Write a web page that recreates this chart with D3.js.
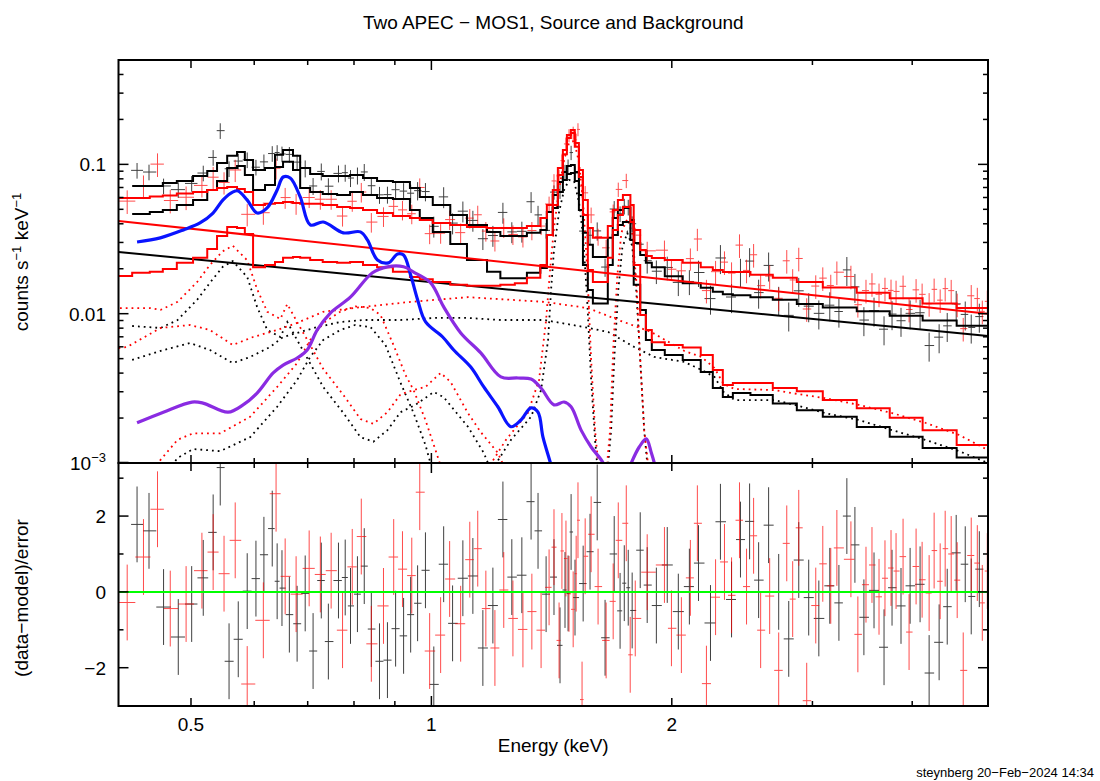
<!DOCTYPE html>
<html><head><meta charset="utf-8">
<script src="https://cdn.jsdelivr.net/npm/d3@7"></script>
<style>body{margin:0;background:#fff} text{font-family:"Liberation Sans",Arial,Helvetica,sans-serif;fill:#000}</style>
</head><body><svg id="c" width="1100" height="781"></svg>
<script>
// ---------- data ----------
const modelEdges = [0.4057,0.422,0.444,0.461,0.480,0.503,0.524,0.539,0.555,0.571,0.584,0.598,0.619,0.637,0.652,0.671,0.685,0.705,0.731,0.762,0.791,0.821,0.855,0.895,0.940,0.967,1.004,1.056,1.108,1.174,1.220,1.272,1.317,1.369,1.395,1.419,1.440,1.461,1.478,1.495,1.512,1.530,1.548,1.570,1.593,1.628,1.663,1.687,1.712,1.737,1.775,1.792,1.826,1.856,1.888,1.960,2.064,2.174,2.251,2.317,2.385,2.509,2.676,2.868,3.091,3.409,3.749,4.122,4.547,4.977];
const blkTotal = [null,0.0717,0.0717,0.0751,0.0774,0.0836,0.0903,0.102,0.114,0.121,0.107,0.0917,0.0945,0.116,0.125,0.114,0.0945,0.0862,0.0836,0.0836,0.0849,0.0811,0.0774,0.0762,0.0695,0.0605,0.0535,0.0458,0.0393,0.0353,0.0331,0.0331,0.0348,0.0364,0.0480,0.0624,0.0762,0.0889,0.0975,0.0991,0.0889,0.0624,0.0348,0.0289,0.0240,0.0240,0.0322,0.0437,0.0495,0.0510,0.0424,0.0298,0.0247,0.0219,0.0205,0.0178,0.0160,0.0149,0.0140,0.0135,0.0133,0.0129,0.0124,0.0116,0.0110,0.0104,0.0097,0.0090,0.0083];
const blkSource = [null,0.0465,0.0480,0.0495,0.0535,0.0578,0.0674,0.0774,0.0945,0.0975,0.0849,0.0674,0.0728,0.096,0.104,0.0917,0.0695,0.0654,0.0634,0.0624,0.0654,0.0624,0.0596,0.0587,0.0495,0.0437,0.0353,0.0293,0.0229,0.0191,0.0173,0.0173,0.0188,0.0202,0.0337,0.0510,0.0654,0.0786,0.0862,0.0875,0.0774,0.0495,0.0212,0.0144,0.0117,0.0117,0.0212,0.0337,0.0393,0.0411,0.0312,0.0156,0.0106,0.00666,0.00571,0.00529,0.0049,0.00407,0.00318,0.00277,0.00294,0.00285,0.0025,0.00226,0.00204,0.00174,0.0015,0.00126,0.00109];
const redTotal = [0.0596,0.0596,0.061,0.0618,0.0637,0.0654,0.0674,0.0695,0.0705,0.0684,0.0654,0.0535,0.0544,0.0552,0.056,0.0552,0.0544,0.0544,0.0535,0.0519,0.051,0.0495,0.0473,0.0451,0.0437,0.0424,0.0405,0.0393,0.0381,0.0375,0.0375,0.0375,0.0387,0.0437,0.0535,0.0674,0.0945,0.125,0.157,0.170,0.139,0.0917,0.0578,0.0375,0.0322,0.0322,0.0387,0.0495,0.0578,0.0624,0.0535,0.0364,0.0267,0.0243,0.0236,0.0229,0.0219,0.0205,0.0196,0.019,0.019,0.0182,0.0174,0.0163,0.0150,0.0138,0.0127,0.0117,0.0109];
const redSource = [0.0179,0.0188,0.0191,0.0199,0.0219,0.0237,0.0271,0.0331,0.0381,0.0375,0.0342,0.0205,0.0212,0.0222,0.0237,0.024,0.0237,0.0229,0.0222,0.0219,0.0222,0.0212,0.0205,0.0191,0.0176,0.017,0.0163,0.0156,0.0154,0.0154,0.0156,0.016,0.0174,0.0212,0.0337,0.0535,0.0849,0.117,0.150,0.162,0.131,0.0823,0.0458,0.0196,0.0163,0.0163,0.0237,0.0364,0.0458,0.0519,0.0411,0.0212,0.0098,0.00778,0.00643,0.00617,0.00594,0.00529,0.0042,0.00333,0.00343,0.00343,0.00318,0.00302,0.00264,0.00233,0.00201,0.00166,0.00132];
const blkPowerLaw = [[0.4057,0.0259],[4.977,0.0071]];
const redPowerLaw = [[0.4057,0.0418],[4.977,0.00997]];

// data points: [energy keV, (data-model)/error, fractional error]
const blkData = [[0.428,1.78,0.12],[0.443,1.61,0.12],[0.462,-0.40,0.12],[0.482,-1.19,0.12],[0.501,-0.32,0.12],[0.518,0.37,0.12],[0.533,1.57,0.12],[0.544,3.28,0.12],[0.558,-1.83,0.12],[0.573,-1.25,0.12],[0.588,0.02,0.12],[0.603,0.35,0.12],[0.617,0.98,0.12],[0.632,1.67,0.12],[0.641,0.28,0.12],[0.650,0.10,0.12],[0.664,-0.60,0.12],[0.679,-0.84,0.12],[0.695,-0.04,0.13],[0.711,-1.56,0.13],[0.728,0.30,0.13],[0.743,-1.31,0.13],[0.765,0.30,0.13],[0.780,0.38,0.13],[0.792,-0.37,0.13],[0.808,-0.06,0.13],[0.824,0.68,0.13],[0.841,-0.98,0.13],[0.861,-1.83,0.13],[0.881,-1.80,0.13],[0.902,-0.97,0.13],[0.923,-1.16,0.13],[0.942,-0.60,0.14],[0.961,-0.30,0.14],[0.983,0.57,0.14],[1.007,-2.44,0.16],[1.036,0.73,0.16],[1.063,-0.83,0.16],[1.095,0.36,0.16],[1.127,0.42,0.16],[1.160,-1.48,0.16],[1.194,-0.36,0.16],[1.229,1.91,0.16],[1.261,0.39,0.16],[1.298,0.44,0.16],[1.333,2.38,0.16],[1.360,1.61,0.15],[1.392,-0.06,0.12],[1.424,0.39,0.11],[1.449,-1.41,0.11],[1.470,0.05,0.11],[1.483,-0.04,0.11],[1.496,1.58,0.11],[1.513,-0.15,0.11],[1.549,0.22,0.12],[1.580,1.06,0.13],[1.613,2.36,0.14],[1.650,-1.21,0.14],[1.694,1.00,0.13],[1.723,-0.50,0.12],[1.744,0.23,0.12],[1.764,0.11,0.12],[1.784,-0.49,0.12],[1.826,1.10,0.14],[1.863,0.18,0.18],[1.913,-0.36,0.18],[1.974,0.71,0.18],[2.038,-0.52,0.19],[2.104,0.14,0.19],[2.160,0.76,0.2],[2.236,-0.82,0.22],[2.301,1.85,0.22],[2.376,-0.20,0.22],[2.438,1.38,0.22],[2.503,1.86,0.22],[2.569,0.31,0.22],[2.644,1.76,0.22],[2.722,0.0,0.22],[2.802,-1.24,0.22],[2.884,0.84,0.22],[2.968,-0.15,0.22],[3.056,-0.70,0.22],[3.154,0.16,0.22],[3.238,-0.29,0.22],[3.313,2.00,0.22],[3.391,1.24,0.22],[3.480,-0.67,0.22],[3.583,0.04,0.22],[3.688,-1.46,0.22],[3.774,0.11,0.22],[3.873,-0.37,0.22],[3.976,0.16,0.22],[4.092,0.20,0.22],[4.200,-2.14,0.22],[4.323,-1.33,0.22],[4.425,-0.39,0.22],[4.541,1.03,0.22],[4.661,0.73,0.22],[4.742,-0.12,0.22],[4.854,0.60,0.22]];
const redData = [[0.416,-0.28,0.18],[0.436,0.92,0.18],[0.454,2.18,0.18],[0.471,-0.44,0.18],[0.493,-0.32,0.18],[0.516,0.56,0.17],[0.533,1.05,0.17],[0.550,0.48,0.17],[0.568,1.36,0.17],[0.588,-2.43,0.17],[0.616,-0.75,0.17],[0.639,2.59,0.16],[0.656,0.41,0.16],[0.677,-0.06,0.16],[0.703,0.62,0.15],[0.726,0.46,0.15],[0.749,0.56,0.15],[0.774,-1.01,0.15],[0.796,0.66,0.15],[0.817,1.46,0.15],[0.841,-1.37,0.15],[0.871,-0.37,0.15],[0.897,0.92,0.15],[0.920,0.60,0.15],[0.945,0.43,0.15],[0.967,2.63,0.15],[0.995,-1.56,0.15],[1.027,-1.14,0.15],[1.054,0.34,0.15],[1.088,-0.84,0.15],[1.117,0.85,0.15],[1.143,1.14,0.15],[1.170,-0.44,0.15],[1.201,-1.48,0.15],[1.232,0.05,0.15],[1.265,-0.70,0.15],[1.302,-0.99,0.15],[1.336,-0.52,0.14],[1.372,-1.01,0.13],[1.404,0.12,0.12],[1.424,1.18,0.11],[1.445,-1.28,0.1],[1.457,1.08,0.1],[1.474,0.88,0.1],[1.487,-0.05,0.1],[1.505,-0.46,0.1],[1.518,0.48,0.1],[1.526,1.89,0.1],[1.544,-2.84,0.1],[1.558,0.94,0.11],[1.585,1.52,0.12],[1.617,0.14,0.13],[1.655,-1.28,0.13],[1.689,-0.25,0.12],[1.714,1.36,0.11],[1.754,1.81,0.11],[1.774,-1.66,0.11],[1.800,-0.70,0.12],[1.863,0.52,0.15],[1.958,0.71,0.16],[1.998,-0.96,0.16],[2.056,-1.14,0.16],[2.110,0.37,0.17],[2.153,1.81,0.17],[2.210,-2.42,0.18],[2.269,-0.14,0.18],[2.328,0.79,0.18],[2.376,-0.09,0.18],[2.431,1.89,0.18],[2.481,0.14,0.18],[2.532,1.48,0.18],[2.584,-1.01,0.18],[2.652,-0.11,0.18],[2.722,-2.07,0.18],[2.786,1.28,0.18],[2.834,-0.19,0.18],[2.884,1.69,0.18],[2.951,-2.87,0.18],[3.029,-0.36,0.18],[3.091,0.74,0.18],[3.163,0.16,0.18],[3.219,1.16,0.18],[3.352,0.86,0.18],[3.420,-1.12,0.18],[3.501,0.19,0.18],[3.562,0.71,0.18],[3.635,-0.13,0.18],[3.698,0.36,0.18],[3.763,0.63,0.18],[3.818,0.55,0.18],[3.896,0.93,0.18],[3.964,-1.06,0.18],[4.045,0.67,0.18],[4.116,0.32,0.18],[4.200,-0.03,0.18],[4.261,1.09,0.18],[4.336,0.28,0.18],[4.399,1.14,0.18],[4.476,1.00,0.18],[4.554,0.31,0.18],[4.634,-2.07,0.18],[4.742,0.96,0.18],[4.826,0.76,0.18],[4.896,-0.29,0.18],[4.967,0.55,0.18]];

// model components (dotted): [energy, counts/s/keV]
const blkLowT = [[0.422,0.00827],[0.458,0.00802],[0.481,0.00907],[0.509,0.0124],[0.528,0.0161],[0.548,0.0206],[0.564,0.0225],[0.588,0.0176],[0.605,0.0111],[0.623,0.00778],[0.647,0.00698],[0.660,0.0088],[0.679,0.00666],[0.705,0.00465],[0.732,0.00323],[0.776,0.00216],[0.815,0.00149],[0.846,0.00139],[0.881,0.00166],[0.915,0.00219],[0.955,0.00245],[1.007,0.00299],[1.036,0.00276],[1.111,0.00175],[1.163,0.00117],[1.194,0.00083]];
const redLowT = [[0.4074,0.0109],[0.4447,0.0109],[0.458,0.0106],[0.481,0.0120],[0.509,0.0163],[0.528,0.0212],[0.548,0.0262],[0.564,0.0285],[0.588,0.0228],[0.605,0.0146],[0.623,0.0103],[0.647,0.00921],[0.660,0.0116],[0.679,0.0088],[0.705,0.00617],[0.732,0.00427],[0.776,0.00285],[0.815,0.00197],[0.846,0.00183],[0.881,0.00219],[0.915,0.00289],[0.950,0.00308],[0.983,0.00323],[1.027,0.00401],[1.057,0.00349],[1.111,0.00216],[1.153,0.00161],[1.211,0.00117],[1.247,0.00083]];
const blkMidT = [[0.464,0.00083],[0.481,0.00108],[0.503,0.00124],[0.544,0.0012],[0.593,0.00149],[0.641,0.00238],[0.679,0.0036],[0.705,0.00513],[0.732,0.00666],[0.769,0.00778],[0.803,0.0084],[0.839,0.00814],[0.876,0.00617],[0.915,0.00344],[0.950,0.00216],[0.983,0.00132],[1.007,0.00083]];
const redMidT = [[0.4447,0.00083],[0.458,0.00105],[0.481,0.00143],[0.503,0.00158],[0.544,0.00158],[0.593,0.00204],[0.641,0.00323],[0.679,0.00467],[0.705,0.00666],[0.732,0.00866],[0.769,0.0103],[0.803,0.0112],[0.839,0.0109],[0.8635,0.0098],[0.8965,0.00617],[0.928,0.00389],[0.950,0.00308],[0.983,0.00194],[1.012,0.00122],[1.036,0.00083]];
const blkHot = [[0.422,0.0049],[0.462,0.00571],[0.4986,0.00636],[0.528,0.00571],[0.564,0.00467],[0.593,0.00513],[0.628,0.00598],[0.652,0.00698],[0.679,0.00743],[0.720,0.00814],[0.769,0.0088],[0.822,0.00907],[0.915,0.00907],[1.007,0.00936],[1.111,0.00936],[1.222,0.00907],[1.384,0.00907],[1.553,0.00814],[1.665,0.00754],[1.795,0.00598],[1.902,0.00513],[2.074,0.00475],[2.179,0.0042],[2.262,0.00377],[2.322,0.00299],[2.397,0.00264],[2.691,0.00264],[2.884,0.00241],[3.109,0.00216],[3.430,0.00194],[3.774,0.00166],[4.152,0.00143],[4.581,0.0012],[4.977,0.001]];
const redHot = [[0.4057,0.00589],[0.4157,0.00598],[0.458,0.00802],[0.4986,0.0084],[0.528,0.00778],[0.564,0.00617],[0.598,0.00698],[0.641,0.00778],[0.679,0.00867],[0.732,0.0103],[0.822,0.0111],[0.942,0.012],[1.111,0.0129],[1.384,0.012],[1.571,0.0109],[1.714,0.00907],[1.885,0.00754],[2.074,0.00562],[2.179,0.00513],[2.262,0.00433],[2.322,0.00338],[2.397,0.00313],[2.691,0.00308],[2.884,0.00289],[3.109,0.00272],[3.430,0.00245],[3.774,0.00216],[4.152,0.00186],[4.581,0.00154],[4.977,0.00122]];
const blkAlLine = [[1.180,0.00083],[1.258,0.00143],[1.333,0.00204],[1.372,0.00308],[1.400,0.00666],[1.412,0.0144],[1.424,0.0267],[1.445,0.048],[1.466,0.0674],[1.487,0.0786],[1.509,0.0774],[1.531,0.0552],[1.549,0.0327],[1.567,0.0124],[1.585,0.0036],[1.603,0.00143],[1.617,0.00083]];
const redAlLine = [[1.163,0.00083],[1.240,0.00143],[1.321,0.00217],[1.364,0.0036],[1.392,0.00907],[1.408,0.0196],[1.424,0.0376],[1.445,0.0674],[1.466,0.107],[1.487,0.139],[1.509,0.144],[1.531,0.102],[1.549,0.0552],[1.567,0.0202],[1.585,0.0049],[1.603,0.00166],[1.622,0.00083]];
const blkSiLine = [[1.660,0.00083],[1.679,0.00166],[1.694,0.0049],[1.714,0.0144],[1.734,0.0275],[1.759,0.0348],[1.784,0.0285],[1.805,0.0144],[1.826,0.0049],[1.847,0.00166],[1.869,0.00083]];
const redSiLine = [[1.655,0.00083],[1.674,0.00166],[1.689,0.00571],[1.709,0.0176],[1.729,0.0348],[1.759,0.0431],[1.784,0.0348],[1.805,0.0168],[1.826,0.0049],[1.847,0.00166],[1.874,0.00083]];

const blueCurve = [[0.428,0.0302],[0.4577,0.0322],[0.4892,0.0364],[0.5131,0.0405],[0.5328,0.0472],[0.5484,0.0578],[0.5645,0.0654],[0.5727,0.0664],[0.5878,0.0578],[0.605,0.0472],[0.6228,0.0511],[0.641,0.0674],[0.6522,0.0823],[0.6656,0.0811],[0.6851,0.0605],[0.7052,0.0393],[0.7322,0.0411],[0.7758,0.0348],[0.8149,0.0353],[0.8315,0.0312],[0.856,0.0229],[0.8836,0.0219],[0.9069,0.0251],[0.9229,0.0247],[0.9418,0.0182],[0.961,0.0124],[0.9835,0.0088],[1.0331,0.00698],[1.0665,0.00571],[1.1202,0.00439],[1.1631,0.00323],[1.2111,0.00238],[1.2576,0.00175],[1.2945,0.00194],[1.3325,0.00234],[1.3597,0.00219],[1.3795,0.00149],[1.4118,0.00097],[1.424,0.0008]];
const purpleCurve = [[0.428,0.00186],[0.4617,0.00219],[0.5015,0.00256],[0.5176,0.00252],[0.5564,0.00219],[0.581,0.00245],[0.605,0.00294],[0.6337,0.00401],[0.6522,0.00453],[0.6792,0.00505],[0.699,0.00571],[0.7196,0.00778],[0.7472,0.0101],[0.7917,0.0129],[0.8438,0.0188],[0.8811,0.0206],[0.9229,0.0206],[0.950,0.019],[0.9979,0.0161],[1.0361,0.0111],[1.0883,0.00743],[1.1531,0.00546],[1.2218,0.00377],[1.2833,0.00371],[1.3325,0.00365],[1.3716,0.00318],[1.4241,0.00245],[1.4658,0.00256],[1.4959,0.00238],[1.5398,0.00166],[1.5849,0.00128],[1.641,0.001],[1.66,0.00082]];
const purpleBump = [[1.754,0.00082],[1.7793,0.001],[1.8208,0.00128],[1.858,0.00145],[1.8853,0.00117],[1.9017,0.001],[1.918,0.00082]];

const xTickValues = [0.5,0.6,0.7,0.8,0.9,1,2,3,4];
const xTickLabels = {"0.5":"0.5","1":"1","2":"2"};
const yTopTickValues = [0.001,0.002,0.003,0.004,0.005,0.006,0.007,0.008,0.009,0.01,0.02,0.03,0.04,0.05,0.06,0.07,0.08,0.09,0.1,0.2,0.3,0.4];
const yBotTickValues = [-2,-1,0,1,2,3];
const yBotTickLabels = {"-2":"\u22122","0":"0","2":"2"};

// ---------- layout ----------
const L=118.5, R=988, T=60, M=463, B=706;
const svg = d3.select("#c");
const x = d3.scaleLog().domain([0.4057,4.977]).range([L,R]);
const yT = d3.scaleLog().domain([0.001,0.5]).range([M,T]);
const yB = d3.scaleLinear().domain([-3.01,3.40]).range([B,M]);

const defs = svg.append("defs");
defs.append("clipPath").attr("id","clipT").append("rect").attr("x",L).attr("y",T).attr("width",R-L).attr("height",M-T);
defs.append("clipPath").attr("id","clipB").append("rect").attr("x",L).attr("y",M).attr("width",R-L).attr("height",B-M);
const gT = svg.append("g").attr("clip-path","url(#clipT)");
const gB = svg.append("g").attr("clip-path","url(#clipB)");

function stepPoints(values){
  const pts=[]; let last=null;
  values.forEach((v,i)=>{ if(v!=null){ pts.push([modelEdges[i],v]); last=i; } });
  pts.push([modelEdges[last+1], values[last]]);
  return pts;
}
const stepLine = d3.line().x(d=>x(d[0])).y(d=>yT(d[1])).curve(d3.curveStepAfter);
const smoothLine = d3.line().x(d=>x(d[0])).y(d=>yT(d[1]));

function modelAt(arr,E){
  let i = d3.bisectRight(modelEdges,E)-1;
  i = Math.max(0,Math.min(arr.length-1,i));
  while(arr[i]==null) i++;
  return arr[i];
}
function dataEdges(c){
  const e=[];
  e.push(c[0]/Math.sqrt(c[1]/c[0]));
  for(let i=0;i<c.length-1;i++) e.push(Math.sqrt(c[i]*c[i+1]));
  const n=c.length; e.push(c[n-1]*Math.sqrt(c[n-1]/c[n-2]));
  return e;
}
function drawData(data,total,color,op){
  const c=data.map(d=>d[0]); const e=dataEdges(c);
  const gt=gT.append("g").attr("stroke",color).attr("stroke-width",1).attr("opacity",op);
  const gb=gB.append("g").attr("stroke",color).attr("stroke-width",1).attr("opacity",op);
  data.forEach((d,i)=>{
    const [E,r,f]=d; const m=modelAt(total,E);
    const val=m/(1-r*f), err=f*val;
    gt.append("line").attr("x1",x(e[i])).attr("x2",x(e[i+1])).attr("y1",yT(val)).attr("y2",yT(val));
    gt.append("line").attr("x1",x(E)).attr("x2",x(E)).attr("y1",yT(val-err)).attr("y2",yT(val+err));
    gb.append("line").attr("x1",x(e[i])).attr("x2",x(e[i+1])).attr("y1",yB(r)).attr("y2",yB(r));
    gb.append("line").attr("x1",x(E)).attr("x2",x(E)).attr("y1",yB(r-1)).attr("y2",yB(r+1));
  });
}
drawData(blkData,blkTotal,"#000",0.75);
drawData(redData,redTotal,"#ff0000",0.7);

// dotted components
[[blkLowT,"#000"],[blkMidT,"#000"],[blkHot,"#000"],[blkAlLine,"#000"],[blkSiLine,"#000"],
 [redLowT,"#ff0000"],[redMidT,"#ff0000"],[redHot,"#ff0000"],[redAlLine,"#ff0000"],[redSiLine,"#ff0000"]].forEach(([d,c])=>{
  gT.append("path").attr("d",smoothLine(d)).attr("fill","none").attr("stroke",c)
    .attr("stroke-width",1.8).attr("stroke-dasharray","1.8 4");
});

// models
gT.append("path").attr("d",smoothLine(blkPowerLaw)).attr("fill","none").attr("stroke","#000").attr("stroke-width",2);
gT.append("path").attr("d",stepLine(stepPoints(blkSource))).attr("fill","none").attr("stroke","#000").attr("stroke-width",2);
gT.append("path").attr("d",stepLine(stepPoints(blkTotal))).attr("fill","none").attr("stroke","#000").attr("stroke-width",2);
gT.append("path").attr("d",smoothLine(redPowerLaw)).attr("fill","none").attr("stroke","#ff0000").attr("stroke-width",2);
gT.append("path").attr("d",stepLine(stepPoints(redSource))).attr("fill","none").attr("stroke","#ff0000").attr("stroke-width",2);
gT.append("path").attr("d",stepLine(stepPoints(redTotal))).attr("fill","none").attr("stroke","#ff0000").attr("stroke-width",2);

// extra curves
const curvy = d3.line().x(d=>x(d[0])).y(d=>yT(d[1])).curve(d3.curveCatmullRom.alpha(0.5));
gT.append("path").attr("d",curvy(blueCurve)).attr("fill","none").attr("stroke","#0a14ff").attr("stroke-width",3.2).attr("stroke-linejoin","round");
gT.append("path").attr("d",curvy(purpleCurve)).attr("fill","none").attr("stroke","#8a2be2").attr("stroke-width",3.2).attr("stroke-linejoin","round");
gT.append("path").attr("d",curvy(purpleBump)).attr("fill","none").attr("stroke","#8a2be2").attr("stroke-width",3.2).attr("stroke-linejoin","round");

// zero line
gB.append("line").attr("x1",L).attr("x2",R).attr("y1",yB(0)).attr("y2",yB(0)).attr("stroke","#00ff00").attr("stroke-width",2);

// ---------- frames and ticks ----------
const ax = svg.append("g").attr("stroke","#000").attr("stroke-width",2).attr("fill","none");
ax.append("rect").attr("x",L).attr("y",T).attr("width",R-L).attr("height",M-T);
ax.append("rect").attr("x",L).attr("y",M).attr("width",R-L).attr("height",B-M);
const tk = svg.append("g").attr("stroke","#000").attr("stroke-width",1.5);
function tick(x1,y1,x2,y2){ tk.append("line").attr("x1",x1).attr("y1",y1).attr("x2",x2).attr("y2",y2); }
xTickValues.forEach(v=>{
  const px=x(v), len=(v===1)?10:(xTickLabels[String(v)]?8:5);
  [[T,1],[M,-1],[M,1],[B,-1]].forEach(([yy,dir])=>tick(px,yy,px,yy+dir*len));
});
yTopTickValues.forEach(v=>{
  const py=yT(v); const major=[0.001,0.01,0.1].includes(v); const len=major?10:5;
  if(v===0.001) return;
  tick(L,py,L+len,py); tick(R,py,R-len,py);
});
tick(L,yT(0.001)-0.5,L+10,yT(0.001)-0.5);
yBotTickValues.forEach(v=>{
  const py=yB(v); const len=(v%2===0)?10:5;
  tick(L,py,L+len,py); tick(R,py,R-len,py);
});

// ---------- text ----------
const fs=19;
svg.append("text").attr("x",(L+R)/2).attr("y",29).attr("text-anchor","middle").attr("font-size",fs).text("Two APEC \u2212 MOS1, Source and Background");
Object.keys(xTickLabels).forEach(k=>{
  svg.append("text").attr("x",x(+k)).attr("y",731).attr("text-anchor","middle").attr("font-size",fs).text(xTickLabels[k]);
});
svg.append("text").attr("x",(L+R)/2).attr("y",752).attr("text-anchor","middle").attr("font-size",fs).text("Energy (keV)");
svg.append("text").attr("x",106).attr("y",yT(0.1)+7).attr("text-anchor","end").attr("font-size",fs).text("0.1");
svg.append("text").attr("x",106).attr("y",yT(0.01)+7).attr("text-anchor","end").attr("font-size",fs).text("0.01");
const t3=svg.append("text").attr("x",106).attr("y",yT(0.001)+7).attr("text-anchor","end").attr("font-size",fs);
t3.append("tspan").text("10"); t3.append("tspan").attr("dy",-8).attr("font-size",13).text("\u22123");
Object.keys(yBotTickLabels).forEach(k=>{
  svg.append("text").attr("x",106).attr("y",yB(+k)+7).attr("text-anchor","end").attr("font-size",fs).text(yBotTickLabels[k]);
});
const yl=svg.append("text").attr("transform","translate(28,262) rotate(-90)").attr("text-anchor","middle").attr("font-size",fs);
yl.append("tspan").text("counts s");
yl.append("tspan").attr("dy",-7).attr("font-size",13).text("\u22121");
yl.append("tspan").attr("dy",7).text(" keV");
yl.append("tspan").attr("dy",-7).attr("font-size",13).text("\u22121");
svg.append("text").attr("transform","translate(28,598) rotate(-90)").attr("text-anchor","middle").attr("font-size",fs).text("(data\u2212model)/error");
svg.append("text").attr("x",1094).attr("y",777).attr("text-anchor","end").attr("font-size",13).text("steynberg 20\u2212Feb\u22122024 14:34");
</script></body></html>
